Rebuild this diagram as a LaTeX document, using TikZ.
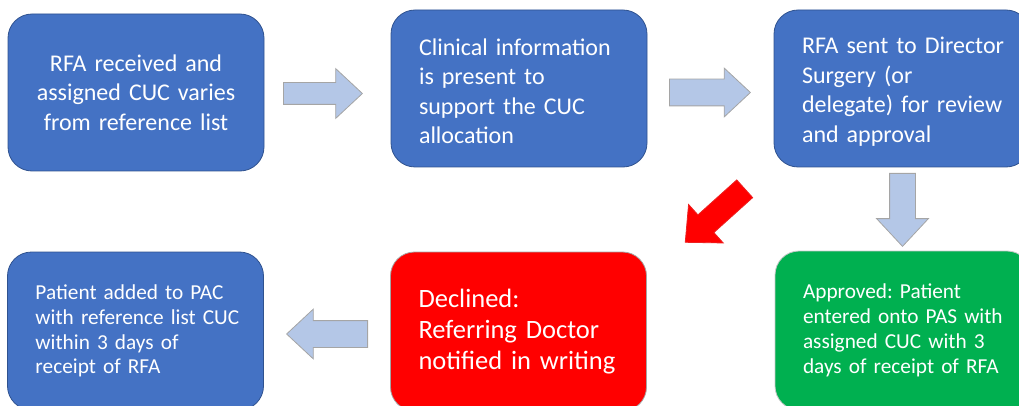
\documentclass[tikz,border=0pt]{standalone}
\usepackage{fontspec}
\setmainfont{Carlito}
\usetikzlibrary{shapes.arrows}
\frenchspacing

\definecolor{boxblue}{HTML}{4472C4}
\definecolor{boxblueline}{HTML}{2F528F}
\definecolor{arrowfill}{HTML}{B4C7E7}
\definecolor{arrowline}{HTML}{A5A5A5}
\definecolor{okgreen}{HTML}{00B050}

\begin{document}
\begin{tikzpicture}[
    x=1pt,
    y=-1pt,
    every node/.style={inner sep=0pt},
    stepbox/.style={rounded corners=24pt, minimum width=256pt, minimum height=157pt,
        text width=240pt, align=center, text=white, line width=0.8pt},
    indented/.style={align=left, execute at begin node={\leftskip=20pt}},
    lowered/.style={execute at end node={\endgraf\vspace{-6pt}}},
    bluebox/.style={stepbox, fill=boxblue, draw=boxblueline},
    bigtext/.style={font=\fontsize{24}{29.5}\selectfont},
    smalltext/.style={font=\fontsize{21.3}{24.8}\selectfont},
    flowarrow/.style={single arrow, anchor=tail, fill=arrowfill, draw=arrowline, line width=0.8pt,
        single arrow tip angle=86, minimum width=0pt, inner xsep=0pt}
]

\useasboundingbox (0,0) rectangle (1019,406);
\clip (0,0) rectangle (1019,406);


% Top row
\node[bluebox, bigtext] (recv) at (136,92.5)
    {RFA received and\\assigned CUC varies\\from reference list};
\node[bluebox, bigtext, indented, lowered] (info) at (519,88.5)
    {Clinical information\\is present to\\support the CUC\\allocation};
\node[bluebox, bigtext, indented, lowered] (review) at (902,88.5)
    {RFA sent to Director\\Surgery (or\\delegate) for review\\and approval};


% Bottom row
\node[stepbox, smalltext, indented, fill=okgreen, draw=arrowline!60, minimum height=159pt] (approved) at (903,330.5)
    {Approved: Patient\\entered onto PAS with\\assigned CUC with 3\\days of receipt of RFA};
\node[stepbox, indented, font=\fontsize{26.5}{31}\selectfont, fill=red, draw=arrowline, minimum height=159pt] (declined) at (518.5,331.5)
    {Declined:\\Referring Doctor\\notified in writing};
\node[bluebox, smalltext, indented, minimum height=158pt] (added) at (135.5,331)
    {Patient added to PAC\\with reference list CUC\\within 3 days of\\receipt of RFA};


% Flow arrows (placed by their tails)
\node[flowarrow, minimum height=79pt, inner ysep=10.5pt, single arrow head extend=14pt] (a1) at (283,93.5) {};
\node[flowarrow, minimum height=81pt, inner ysep=13pt, single arrow head extend=11pt] (a2) at (669,92.5) {};
\node[flowarrow, minimum height=73pt, inner ysep=12.5pt, single arrow head extend=13pt, rotate=270] (a3) at (902.5,173) {};
\node[flowarrow, minimum height=80pt, inner ysep=11.5pt, single arrow head extend=14pt, rotate=222,
    fill=red, draw=red!80!arrowline] (a4) at (745,188.5) {};
\node[flowarrow, minimum height=81pt, inner ysep=13pt, single arrow head extend=11.5pt, rotate=180] (a5) at (368,334) {};


\end{tikzpicture}
\end{document}
